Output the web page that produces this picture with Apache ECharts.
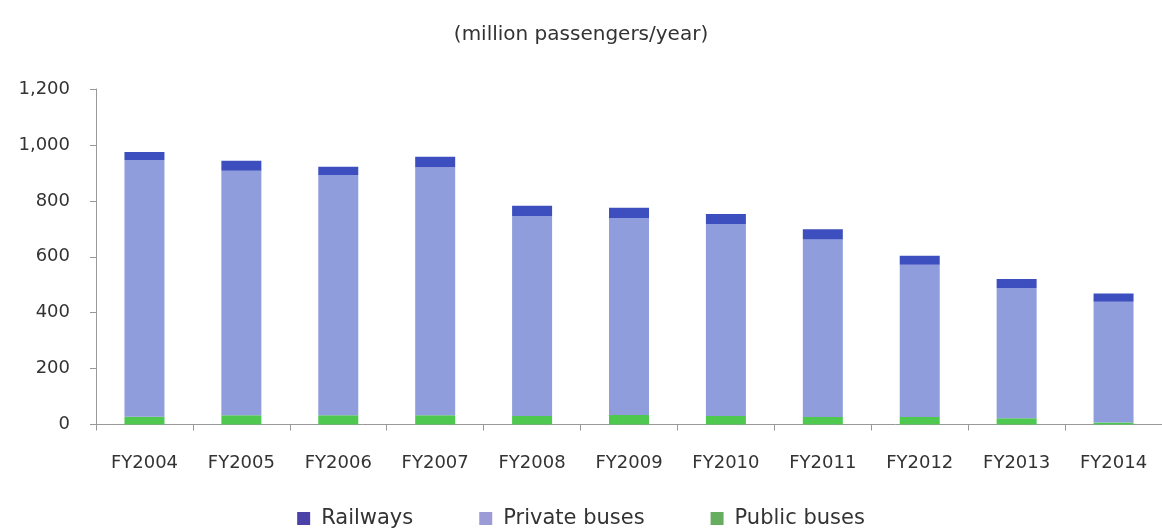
<!DOCTYPE html>
<html>
<head>
<meta charset="utf-8">
<script src="https://cdn.jsdelivr.net/npm/echarts@6/dist/echarts.min.js"></script>
<style>
  html, body { margin: 0; padding: 0; background: #fff; }
  #chart { width: 1162px; height: 529px; }
</style>
</head>
<body>
<div id="chart"></div>
<script>
// data (million passengers/year)
const years = ['FY2004', 'FY2005', 'FY2006', 'FY2007', 'FY2008', 'FY2009', 'FY2010', 'FY2011', 'FY2012', 'FY2013', 'FY2014'];
const publicBuses = [28, 33, 33, 33, 30, 34, 30, 27, 27, 22, 7];
const privateBuses = [918, 875, 859, 887, 715, 705, 687, 635, 544, 465, 432];
const railways = [29, 35, 30, 38, 37, 36, 36, 36, 33, 33, 30];
const yTicks = [0, 200, 400, 600, 800, 1000, 1200];

const FONT = 'DejaVu Sans';
const chart = echarts.init(document.getElementById('chart'));

// 标题 + 堆叠柱
let option = {
  animation: false,
  title: {
    text: '(million passengers/year)',
    left: 'center',
    top: 20,
    textStyle: { fontFamily: FONT, fontSize: 20, fontWeight: 'normal', color: '#333' }
  },
  legend: {
    top: 503,
    left: 'center',
    itemWidth: 13,
    itemHeight: 13,
    itemGap: 66,
    icon: 'rect',
    data: [
      { name: 'Railways', itemStyle: { color: '#4a42a8' } },
      { name: 'Private buses', itemStyle: { color: '#9d9ad8' } },
      { name: 'Public buses', itemStyle: { color: '#66ad5f' } }
    ],
    textStyle: { fontFamily: FONT, fontSize: 21, color: '#333', padding: [0, 0, 0, 6] }
  },
  grid: { left: 96, right: -5, top: 89, bottom: 104.5 },
  xAxis: {
    type: 'category',
    data: years,
    axisLine: { lineStyle: { color: '#999' } },
    axisTick: { show: true, length: 6, lineStyle: { color: '#999' } },
    axisLabel: { fontFamily: FONT, fontSize: 18, color: '#333', margin: 30, interval: 0 }
  },
  yAxis: {
    type: 'value',
    min: yTicks[0],
    max: yTicks[yTicks.length - 1],
    interval: 200,
    splitLine: { show: false },
    axisLine: { show: true, lineStyle: { color: '#999' } },
    axisTick: { show: true, length: 6, lineStyle: { color: '#999' } },
    axisLabel: {
      fontFamily: FONT, fontSize: 18, color: '#333', margin: 26,
      formatter: v => v.toLocaleString('en-US')
    }
  },
  series: [
    {
      name: 'Public buses', type: 'bar', stack: 'total', barWidth: 40,
      data: publicBuses,
      itemStyle: { color: '#4fc84f' }
    },
    {
      name: 'Private buses', type: 'bar', stack: 'total', barWidth: 40,
      data: privateBuses,
      itemStyle: { color: '#909ddd' }
    },
    {
      name: 'Railways', type: 'bar', stack: 'total', barWidth: 40,
      data: railways,
      itemStyle: { color: '#3d4fbf' }
    }
  ]
};

chart.setOption(option);
</script>
</body>
</html>
